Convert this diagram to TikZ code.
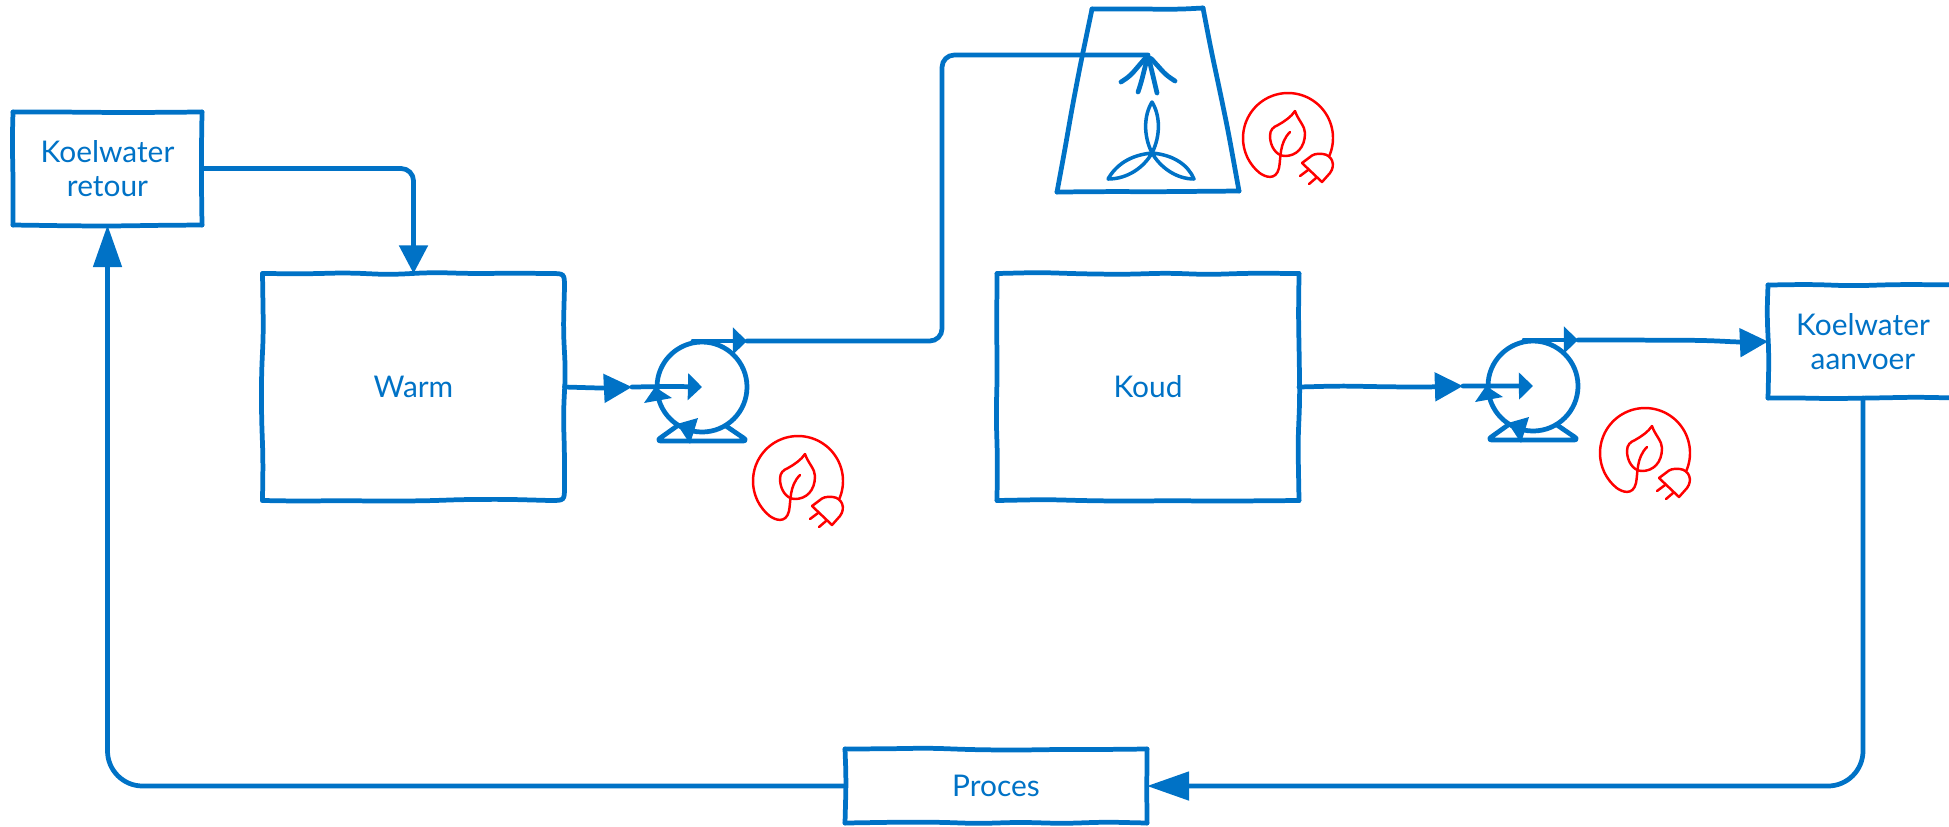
\documentclass[tikz,border=0pt]{standalone}
\usepackage{fontspec}
\setmainfont{Lato}
\usetikzlibrary{arrows.meta, calc, decorations.pathmorphing}

\definecolor{waterblue}{HTML}{0072C6}
\def\px{.02cm}
\pgfmathsetseed{11}

\tikzset{
  bigtip/.tip={Triangle[length=16pt,width=16pt]},
  longtip/.tip={Triangle[length=24pt,width=16pt]},
  smalltip/.tip={Triangle[length=8pt,width=15pt]},
  sketch/.style={draw=waterblue, line width=2.7pt, line cap=round, line join=round},
  wobble/.style={sketch, decorate, decoration={random steps, segment length=24pt, amplitude=.7pt}, rounded corners=8pt},
  wire/.style={sketch, rounded corners=#1},
  wire/.default=7pt,
  boxnode/.style={inner sep=0pt, outer sep=0pt, text=waterblue, align=center, font=\fontsize{17}{19}\selectfont},
  pumpbody/.style={circle, sketch, minimum size=90*\px, inner sep=0pt, outer sep=0pt},
  ecoline/.style={draw=red, line width=1.4pt, line join=round, line cap=round},
  pumpicon/.pic={
    \node[pumpbody] (-body) at (0,0) {};
    \coordinate (-in) at (-70,0);
    \coordinate (-top) at (-9,-46);
    \coordinate (-out) at (45,-46);
    \draw[wobble, -smalltip] (-in) -- (-body.center);
    \draw[sketch, -smalltip] (-top) -- (-out);
    \fill[waterblue] (-58,16) -- (-30,11) -- (-47,0) -- cycle;
    \fill[waterblue] (-4,31) -- (-12,57) -- (-25,37) -- cycle;
    \draw[sketch, rounded corners=3pt] (-25,39) -- (-46,54) -- (46,54) -- (24,39);
  },
  ecoicon/.pic={
    \draw[ecoline] plot[smooth, domain=-23:231, samples=40] ({45*cos(\x)},{-45*sin(\x)})
      .. controls (-23,39) and (-12,43) .. (-9,30) .. controls (-7,20) and (-9,5) .. (2,-6);
    \draw[ecoline] (7,-27) .. controls (10,-18) and (17,-12) .. (17,-5)
      .. controls (17,10) and (8,18) .. (-3,18) .. controls (-12,18) and (-18,8) .. (-18,-2)
      .. controls (-18,-8) and (-15,-11) .. (-10,-13) .. controls (-3,-17) and (3,-21) .. (7,-27);
    \draw[ecoline] (14,25) -- (34,44) -- (42,35) .. controls (48,27) and (44,17) .. (35,16)
      .. controls (28,15) and (24,17) .. (22,19) -- (14,25);
    \draw[ecoline] (20,32) -- (12,38);
    \draw[ecoline] (28,40) -- (21,46);
  }
}

\newcommand{\boxsides}[1]{
  \draw[wobble] (#1.north west) -- (#1.north east);
  \draw[wobble] (#1.north east) -- (#1.south east);
  \draw[wobble] (#1.south east) -- (#1.south west);
  \draw[wobble] (#1.south west) -- (#1.north west);
}

\begin{document}
\begin{tikzpicture}[x=\px, y=-\px]
  \useasboundingbox (0,0) rectangle (1949,826);

  \node[boxnode, minimum width=189*\px, minimum height=113*\px] (retour) at (107.5,168.5) {Koelwater\\retour};
  \node[boxnode, minimum width=302*\px, minimum height=227*\px] (warm) at (413.5,387) {Warm};
  \node[boxnode, minimum width=302*\px, minimum height=227*\px] (koud) at (1148,387) {Koud};
  \node[boxnode, minimum width=190*\px, minimum height=113*\px] (aanvoer) at (1863,341.5) {Koelwater\\aanvoer};
  \node[boxnode, minimum width=302*\px, minimum height=74*\px] (proces) at (996,786) {Proces};

  \boxsides{retour}
  \boxsides{koud}
  \boxsides{aanvoer}
  \boxsides{proces}

  % warm has its right corners rounded
  \draw[wobble] (warm.north west) -- ($(warm.north east)+(-14,0)$);
  \draw[sketch] ($(warm.north east)+(-14,0)$) .. controls (warm.north east) .. ($(warm.north east)+(0,14)$);
  \draw[wobble] ($(warm.north east)+(0,14)$) -- ($(warm.south east)+(0,-14)$);
  \draw[sketch] ($(warm.south east)+(0,-14)$) .. controls (warm.south east) .. ($(warm.south east)+(-14,0)$);
  \draw[wobble] ($(warm.south east)+(-14,0)$) -- (warm.south west);
  \draw[wobble] (warm.south west) -- (warm.north west);

  \pic (pumpw) at (702,387) {pumpicon};
  \pic (pumpk) at (1533,386) {pumpicon};

  % cooling tower
  \coordinate (towertl) at (1092,9);
  \coordinate (towertr) at (1203,8);
  \coordinate (towerbr) at (1239,191);
  \coordinate (towerbl) at (1057,192);
  \coordinate (spray) at (1148,55);
  \coordinate (riser) at (942,200);
  \draw[wobble] (towertl) -- (towertr);
  \draw[wobble] (towertr) -- (towerbr);
  \draw[wobble] (towerbr) -- (towerbl);
  \draw[wobble] (towerbl) -- (towertl);

  \draw[sketch, rounded corners=3pt] (1121,82) -- (1130,76) -- (spray) -- (1166,75) -- (1175,81);
  \draw[sketch, rounded corners=3pt] (1138,92) -- (1141,83) -- (spray) -- (1153,76) -- (1157,93);

  \begin{scope}[shift={(1152,153)}]
    \draw[sketch, line width=2pt] (0,0) .. controls (-9,-18) and (-8,-38) .. (0,-51) .. controls (8,-38) and (9,-18) .. (0,0);
    \draw[sketch, line width=2pt] (0,0) .. controls (-22,2) and (-36,12) .. (-44,26) .. controls (-24,26) and (-8,14) .. (0,0);
    \draw[sketch, line width=2pt] (0,0) .. controls (22,2) and (36,12) .. (42,26) .. controls (24,26) and (8,14) .. (0,0);
  \end{scope}

  \pic at (1288,138) {ecoicon};
  \pic at (798,481) {ecoicon};
  \pic at (1645,453) {ecoicon};

  \draw[wire, -bigtip] (retour.east) -| (warm.north);
  \draw[wobble, -bigtip] (warm.east) -- (pumpw-in);
  \draw[wire] (pumpw-out) -| (riser) |- (spray);
  \draw[wobble, -bigtip] (koud.east) -- (pumpk-in);
  \draw[wobble, -bigtip] (pumpk-out) -- (aanvoer.west);
  \draw[wire=20pt, -longtip] (aanvoer.south) |- (proces.east);
  \draw[wire=20pt, -longtip] (proces.west) -| (retour.south);
\end{tikzpicture}
\end{document}
